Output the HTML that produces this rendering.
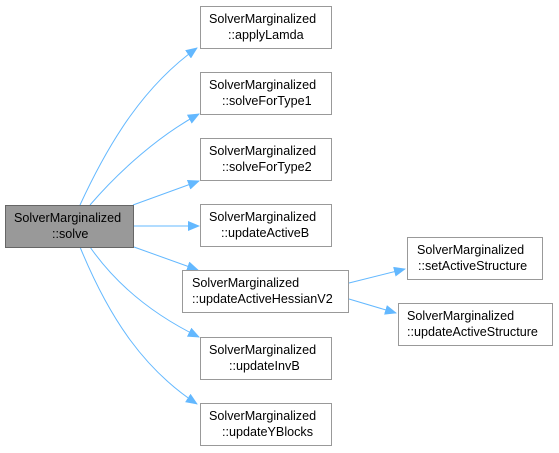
<!DOCTYPE html>
<html><head><style>body{margin:0;background:#fff}svg{display:block}</style></head><body>
<svg width="559" height="453" viewBox="0 0 559 453" xmlns="http://www.w3.org/2000/svg" font-family="Liberation Sans, Arial, sans-serif" font-size="12.6">
<defs><marker id="a" markerWidth="12" markerHeight="10" refX="11" refY="5" orient="auto" markerUnits="userSpaceOnUse"><path d="M0,0 L12,5 L0,10 z" fill="#63b8ff"/></marker></defs>
<g fill="none" stroke="#63b8ff" stroke-width="1" marker-end="url(#a)">
<path d="M80,205 C110,140 145,85 197,48"/>
<path d="M90,205 C120,170 160,135 199,114"/>
<path d="M133,205 L199,181"/>
<path d="M134,226 L199,226"/>
<path d="M134,247 L198,270"/>
<path d="M90,247 C120,290 160,318 199,337"/>
<path d="M80,247 C110,320 145,370 197,404"/>
<path d="M349,283 L405,269"/>
<path d="M349,299 L396,313"/>
</g>
<g stroke="#999" stroke-width="1">
<rect x="5.5" y="205.5" width="128" height="42" fill="#999" stroke="#666"/>
<rect x="200.5" y="6.5" width="131" height="42" fill="#fff"/>
<rect x="200.5" y="72.5" width="131" height="42" fill="#fff"/>
<rect x="200.5" y="138.5" width="131" height="42" fill="#fff"/>
<rect x="200.5" y="204.5" width="131" height="42" fill="#fff"/>
<rect x="182.5" y="270.5" width="166" height="42" fill="#fff"/>
<rect x="200.5" y="337.5" width="131" height="42" fill="#fff"/>
<rect x="200.5" y="403.5" width="131" height="42" fill="#fff"/>
<rect x="407.5" y="237.5" width="135" height="42" fill="#fff"/>
<rect x="398.5" y="303.5" width="154" height="42" fill="#fff"/>
</g>
<g fill="#000">
<text x="14" y="222">SolverMarginalized</text><text x="52" y="238">::solve</text>
<text x="209" y="23">SolverMarginalized</text><text x="228" y="39">::applyLamda</text>
<text x="209" y="89">SolverMarginalized</text><text x="222" y="105">::solveForType1</text>
<text x="209" y="155">SolverMarginalized</text><text x="222" y="171">::solveForType2</text>
<text x="209" y="221">SolverMarginalized</text><text x="221" y="237">::updateActiveB</text>
<text x="192" y="287">SolverMarginalized</text><text x="192" y="303">::updateActiveHessianV2</text>
<text x="209" y="354">SolverMarginalized</text><text x="229" y="370">::updateInvB</text>
<text x="209" y="420">SolverMarginalized</text><text x="222" y="436">::updateYBlocks</text>
<text x="417" y="254">SolverMarginalized</text><text x="418" y="270">::setActiveStructure</text>
<text x="407" y="320">SolverMarginalized</text><text x="407" y="336">::updateActiveStructure</text>
</g>
</svg>
</body></html>
